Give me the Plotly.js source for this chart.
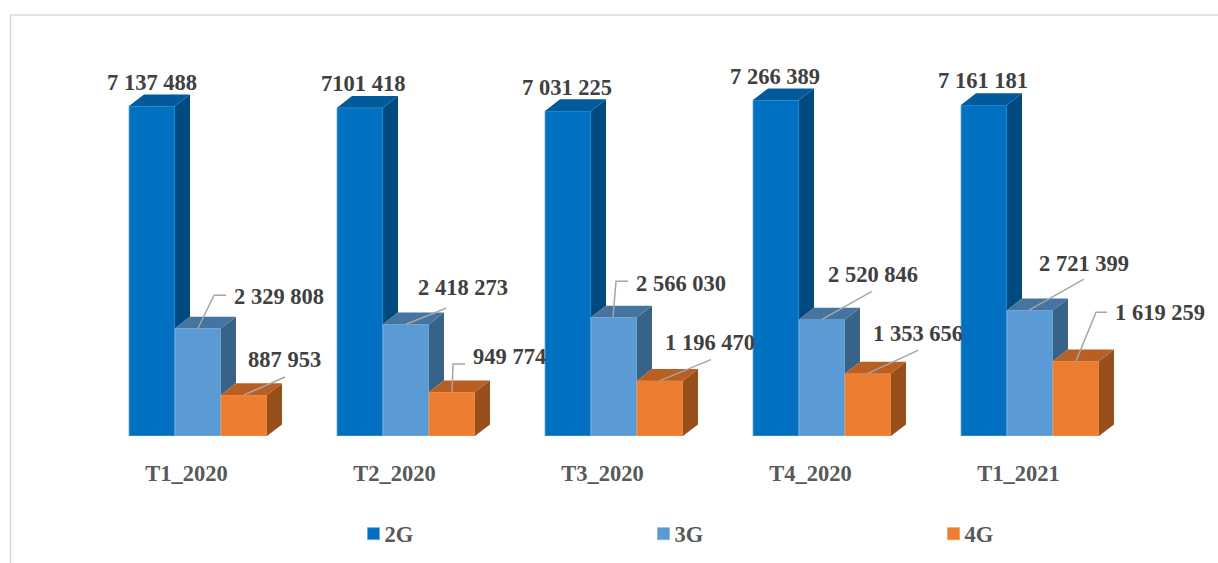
<!DOCTYPE html>
<html>
<head>
<meta charset="utf-8">
<script src="https://cdn.plot.ly/plotly-3.0.1.min.js"></script>
<style>html,body{margin:0;padding:0;background:#fff;overflow:hidden}</style>
</head>
<body>
<div id="chart" style="width:1218px;height:563px"></div>
<script>
// ---- data ----
const categories = ['T1_2020', 'T2_2020', 'T3_2020', 'T4_2020', 'T1_2021'];
const seriesNames = ['2G', '3G', '4G'];
const values2G = [7137488, 7101418, 7031225, 7266389, 7161181];
const values3G = [2329808, 2418273, 2566030, 2520846, 2721399];
const values4G = [887953, 949774, 1196470, 1353656, 1619259];
const labels2G = ['7 137 488', '7101 418', '7 031 225', '7 266 389', '7 161 181'];
const labels3G = ['2 329 808', '2 418 273', '2 566 030', '2 520 846', '2 721 399'];
const labels4G = ['887 953', '949 774', '1 196 470', '1 353 656', '1 619 259'];

// ---- styling: pixel offsets of each label/leader from the top of its bar ----
const labelOffsets2G = [[0,-24],[3,-24],[-1,-23],[-1,-24],[-1,-24]];
const labelOffsets3G = [[81,-32],[57,-37],[67,-34],[51,-45],[54,-47]];
const labelOffsets4G = [[40,-35],[57,-36],[50,-38],[50,-40],[84,-49]];
const leaders3G = [
  [[0,0],[16,-33],[28,-33]], [[0,0],[40,-16]], [[-1,0],[2,-36],[14,-36]],
  [[0,0],[50,-28]], [[-1,0],[54,-31]]
];
const leaders4G = [
  [[0,0],[41,-18]], [[0,0],[1,-28],[13,-28]], [[0,0],[51,-21]],
  [[0,0],[50,-23]], [[0,0],[20,-49],[31,-49]]
];
const frontColors = ['#0070C0', '#5B9BD5', '#ED7D31'];
const edgeColors = ['#6FA8D8', '#86B5E0', '#F09A5C'];
const topColors = ['#005A9C', '#4574A1', '#B85F21'];
const sideColors = ['#004A80', '#386389', '#97501B'];

// ---- geometry ----
const W = 1218, H = 563, baseY = 436;
const groupPx = 208, firstGroupPx = 198, barPx = 46;
const pxPerUnit = 330 / 7137488;
const depthX = 15, depthY = 11.6;
const dxData = p => p / groupPx;
const dyData = p => p / pxPerUnit;
const barCenter = (g, s) => g + (s - 1) * barPx / groupPx;

const allValues = [values2G, values3G, values4G];
const allLabels = [labels2G, labels3G, labels4G];
const allOffsets = [labelOffsets2G, labelOffsets3G, labelOffsets4G];

const traces = [];
allValues.forEach((vals, s) => {
  traces.push({
    type: 'bar', name: seriesNames[s],
    x: categories.map((_, g) => g), y: vals,
    marker: {color: frontColors[s], line: {color: edgeColors[s], width: 0.8}},
    hoverinfo: 'skip'
  });
});

allValues.forEach((vals, s) => {
  const sx = [], sy = [], tx = [], ty = [];
  vals.forEach((v, g) => {
    const c = barCenter(g, s), l = c - dxData(barPx / 2), r = c + dxData(barPx / 2);
    const d = dxData(depthX), e = dyData(depthY);
    const low = s < 2 ? allValues[s + 1][g] : 0;   // neighbour hides the lower part of the side
    const lowBack = s < 2 ? low + e : e;
    sx.push(r, r + d, r + d, r, null);
    sy.push(v, v + e, lowBack, low, null);
    tx.push(l, l + d, r + d, r, null);
    ty.push(v, v + e, v + e, v, null);
  });
  [[sx, sy, sideColors[s]], [tx, ty, topColors[s]]].forEach(([x, y, col]) => {
    traces.push({
      type: 'scatter', mode: 'lines', x, y, fill: 'toself', fillcolor: col,
      line: {width: 0, color: col}, showlegend: false, hoverinfo: 'skip'
    });
  });
});

const lx = [], ly = [];
[leaders3G, leaders4G].forEach((set, k) => {
  const s = k + 1;
  set.forEach((pts, g) => {
    pts.forEach(([dx, dy]) => {
      lx.push(barCenter(g, s) + dxData(dx));
      ly.push(allValues[s][g] - dyData(dy));
    });
    lx.push(null); ly.push(null);
  });
});
traces.push({
  type: 'scatter', mode: 'lines', x: lx, y: ly,
  line: {color: '#A6A6A6', width: 1.5}, showlegend: false, hoverinfo: 'skip'
});

const annotations = [];
allValues.forEach((vals, s) => {
  vals.forEach((v, g) => {
    annotations.push({
      x: barCenter(g, s), y: v, xref: 'x', yref: 'y',
      text: allLabels[s][g], showarrow: false,
      xanchor: 'center', yanchor: 'middle',
      xshift: allOffsets[s][g][0], yshift: -allOffsets[s][g][1],
      font: {family: '"Liberation Serif", serif', size: 22.5, color: '#404040', weight: 'bold'}
    });
  });
});

const paperY = px => (baseY - px) / baseY;
const layout = {
  width: W, height: H,
  margin: {l: 0, r: 0, t: 0, b: H - baseY, pad: 0},
  paper_bgcolor: '#fff', plot_bgcolor: 'rgba(0,0,0,0)',
  barmode: 'group', bargap: 1 - 3 * barPx / groupPx, bargroupgap: 0,
  xaxis: {
    range: [-firstGroupPx / groupPx, (W - firstGroupPx) / groupPx],
    tickmode: 'array',
    tickvals: categories.map((_, g) => g - 0.055),
    ticktext: categories,
    ticks: '', showgrid: false, zeroline: false, showline: false,
    ticklabelstandoff: 21,
    tickfont: {family: '"Liberation Serif", serif', size: 22.5, color: '#595959', weight: 'bold'}
  },
  yaxis: {range: [0, baseY / pxPerUnit], visible: false, showgrid: false, zeroline: false},
  legend: {
    orientation: 'h', x: 345 / W, y: paperY(534), yanchor: 'middle', xanchor: 'left',
    entrywidth: 245, entrywidthmode: 'pixels', traceorder: 'normal',
    bgcolor: 'rgba(0,0,0,0)',
    font: {family: '"Liberation Serif", serif', size: 22.5, color: '#595959', weight: 'bold'}
  },
  annotations,
  shapes: [{
    type: 'path', xref: 'paper', yref: 'paper', layer: 'below',
    path: `M ${10.5 / W} ${paperY(563)} L ${10.5 / W} ${paperY(15)} L 1 ${paperY(15)}`,
    line: {color: '#D9D9D9', width: 1.5}
  }],
  showlegend: true
};
Plotly.newPlot('chart', traces, layout, {displayModeBar: false, responsive: false}).then(gd => {
  // tighten the marker-to-text gap and move the legend the last few pixels
  gd.querySelectorAll('.legendtext').forEach(t => t.setAttribute('x', 31));
  const items = gd.querySelector('.legend');
  if (items) {
    const tr = items.getAttribute('transform') || '';
    items.setAttribute('transform', 'translate(8.5,0) ' + tr);
  }
});
</script>
</body>
</html>
